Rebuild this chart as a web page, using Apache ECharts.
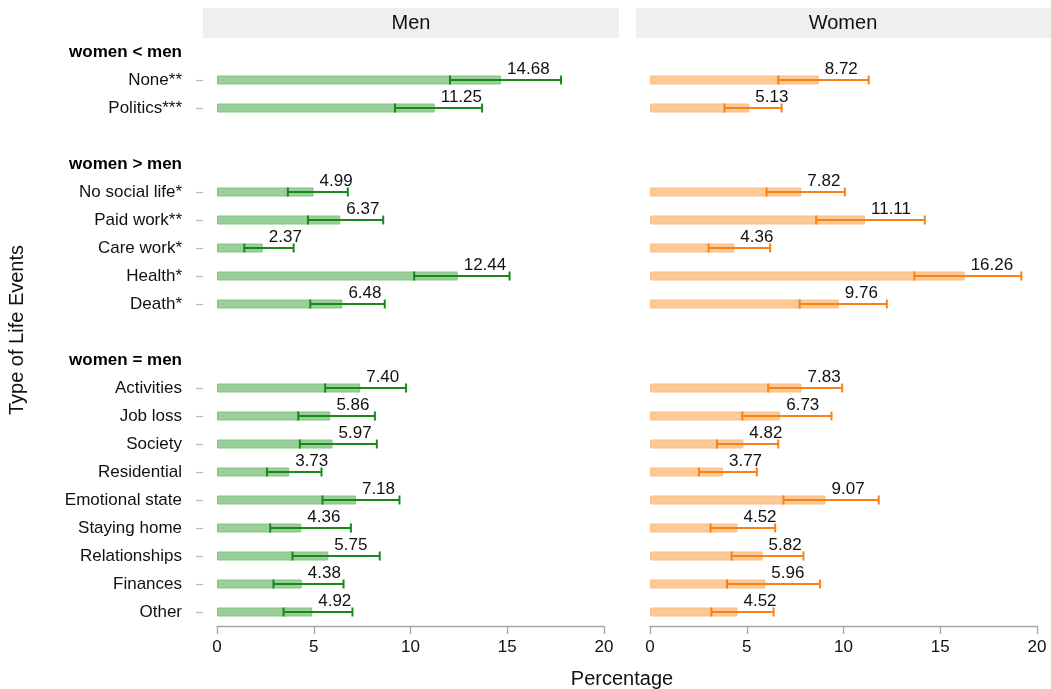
<!DOCTYPE html>
<html lang="en">
<head>
    <meta charset="UTF-8">
    <title>Type of Life Events</title>
    <script src="https://cdn.jsdelivr.net/npm/echarts@6/dist/echarts.min.js"></script>
    <style>
        html, body { margin: 0; padding: 0; background: #fff; }
        #main { width: 1051px; height: 689px; }
    </style>
</head>
<body>
<div id="main"></div>
<script type="text/javascript">
    // rows top to bottom; group headers and empty spacer rows included
    var categories = ['women < men', 'None**', 'Politics***', ' ',
        'women > men', 'No social life*', 'Paid work**', 'Care work*', 'Health*', 'Death*', '  ',
        'women = men', 'Activities', 'Job loss', 'Society', 'Residential', 'Emotional state',
        'Staying home', 'Relationships', 'Finances', 'Other'];
    var headers = ['women < men', 'women > men', 'women = men'];

    var menValues = ['-', 14.68, 11.25, '-', '-', 4.99, 6.37, 2.37, 12.44, 6.48, '-', '-',
        7.40, 5.86, 5.97, 3.73, 7.18, 4.36, 5.75, 4.38, 4.92];
    var menLow = [null, 12.04, 9.20, null, null, 3.66, 4.70, 1.41, 10.19, 4.82, null, null,
        5.59, 4.20, 4.28, 2.58, 5.45, 2.75, 3.90, 2.92, 3.44];
    var menHigh = [null, 17.78, 13.70, null, null, 6.76, 8.59, 3.96, 15.12, 8.67, null, null,
        9.77, 8.16, 8.26, 5.40, 9.43, 6.92, 8.41, 6.54, 7.00];

    var womenValues = ['-', 8.72, 5.13, '-', '-', 7.82, 11.11, 4.36, 16.26, 9.76, '-', '-',
        7.83, 6.73, 4.82, 3.77, 9.07, 4.52, 5.82, 5.96, 4.52];
    var womenLow = [null, 6.63, 3.85, null, null, 6.02, 8.59, 3.03, 13.66, 7.73, null, null,
        6.11, 4.77, 3.46, 2.53, 6.90, 3.13, 4.22, 3.98, 3.17];
    var womenHigh = [null, 11.30, 6.80, null, null, 10.07, 14.20, 6.21, 19.19, 12.24, null, null,
        9.93, 9.38, 6.63, 5.52, 11.82, 6.47, 7.93, 8.79, 6.39];

    var xTicks = [0, 5, 10, 15, 20];

    var FONT = '"Liberation Sans", Arial, Helvetica, sans-serif';

    function errorData(low, high) {
        var out = [];
        for (var i = 0; i < low.length; i++) {
            if (low[i] != null) out.push([i, low[i], high[i]]);
        }
        return out;
    }

    function isRow(i) {
        var c = categories[i];
        return c.trim() !== '' && headers.indexOf(c) < 0;
    }

    function errorBar(color) {
        return function (params, api) {
            var idx = api.value(0);
            var a = api.coord([api.value(1), idx]);
            var b = api.coord([api.value(2), idx]);
            var h = 4.5;
            var st = { stroke: color, lineWidth: 2 };
            return {
                type: 'group',
                children: [
                    { type: 'line', shape: { x1: a[0], y1: a[1], x2: b[0], y2: b[1] }, style: st },
                    { type: 'line', shape: { x1: a[0], y1: a[1] - h, x2: a[0], y2: a[1] + h }, style: st },
                    { type: 'line', shape: { x1: b[0], y1: b[1] - h, x2: b[0], y2: b[1] + h }, style: st }
                ]
            };
        };
    }

    function xAxis(gi) {
        return {
            type: 'value', gridIndex: gi, min: 0, max: 20, interval: 5,
            axisLine: { show: true, lineStyle: { color: '#a6a6a6', width: 1.3 } },
            axisTick: { show: true, length: 8, lineStyle: { color: '#a6a6a6', width: 1.3 } },
            axisLabel: {
                margin: 13, fontSize: 17, color: '#111', fontFamily: FONT,
                customValues: xTicks
            },
            splitLine: { show: false }
        };
    }

    var barLabel = {
        show: true, position: 'right', distance: 6, offset: [0, -11],
        fontSize: 17, color: '#111', fontFamily: FONT,
        formatter: function (p) { return Number(p.value).toFixed(2); }
    };

    var myChart = echarts.init(document.getElementById('main'));

    var option = {
        animation: false,
        grid: [
            { left: 217, top: 38, width: 387, height: 588 },
            { left: 650, top: 38, width: 387, height: 588 },
            // holds only the category labels and ticks, at the panel's left edge
            { left: 203, top: 38, width: 10, height: 588 }
        ],
        xAxis: [xAxis(0), xAxis(1),
            { type: 'value', gridIndex: 2, show: false, min: 0, max: 1 }],
        yAxis: [
            {
                type: 'category', gridIndex: 0, data: categories, inverse: true,
                axisLine: { show: false }, axisTick: { show: false }, axisLabel: { show: false }
            },
            {
                type: 'category', gridIndex: 1, data: categories, inverse: true,
                axisLine: { show: false }, axisTick: { show: false }, axisLabel: { show: false }
            },
            {
                type: 'category', gridIndex: 2, data: categories, inverse: true,
                axisLine: { show: false },
                axisTick: {
                    show: true, alignWithLabel: true, length: 7,
                    interval: function (i) { return isRow(i); },
                    lineStyle: { color: '#bbbbbb', width: 1.3 }
                },
                axisLabel: {
                    interval: 0, margin: 21, fontSize: 17, color: '#111', fontFamily: FONT,
                    formatter: function (v) {
                        return headers.indexOf(v) >= 0 ? '{h|' + v + '}' : v;
                    },
                    rich: { h: { fontWeight: 'bold', fontSize: 17, color: '#000', fontFamily: FONT } }
                }
            }
        ],
        series: [
            {
                name: 'Men', type: 'bar', xAxisIndex: 0, yAxisIndex: 0, data: menValues,
                barWidth: 9,
                itemStyle: { color: '#9acf9a', borderColor: '#86c386', borderWidth: 1 },
                label: barLabel, z: 2
            },
            {
                type: 'custom', xAxisIndex: 0, yAxisIndex: 0,
                data: errorData(menLow, menHigh),
                encode: { x: [1, 2], y: 0 },
                renderItem: errorBar('#16891a'), z: 3
            },
            {
                name: 'Women', type: 'bar', xAxisIndex: 1, yAxisIndex: 1, data: womenValues,
                barWidth: 9,
                itemStyle: { color: '#fdc996', borderColor: '#f9bd85', borderWidth: 1 },
                label: barLabel, z: 2
            },
            {
                type: 'custom', xAxisIndex: 1, yAxisIndex: 1,
                data: errorData(womenLow, womenHigh),
                encode: { x: [1, 2], y: 0 },
                renderItem: errorBar('#fb8016'), z: 3
            }
        ],
        graphic: [
            // facet strips
            { type: 'rect', shape: { x: 203, y: 8, width: 416, height: 30 }, style: { fill: '#efefef' } },
            { type: 'rect', shape: { x: 636, y: 8, width: 415, height: 30 }, style: { fill: '#efefef' } },
            { type: 'text', x: 411, y: 23, style: { text: 'Men', font: '20px ' + FONT, fill: '#111', align: 'center', verticalAlign: 'middle' } },
            { type: 'text', x: 843, y: 23, style: { text: 'Women', font: '20px ' + FONT, fill: '#111', align: 'center', verticalAlign: 'middle' } },
            // axis titles
            { type: 'text', x: 622, y: 679, style: { text: 'Percentage', font: '20px ' + FONT, fill: '#111', align: 'center', verticalAlign: 'middle' } },
            { type: 'text', x: 17, y: 330, rotation: Math.PI / 2, style: { text: 'Type of Life Events', font: '20px ' + FONT, fill: '#111', align: 'center', verticalAlign: 'middle' } }
        ]
    };

    myChart.setOption(option);
</script>
</body>
</html>
